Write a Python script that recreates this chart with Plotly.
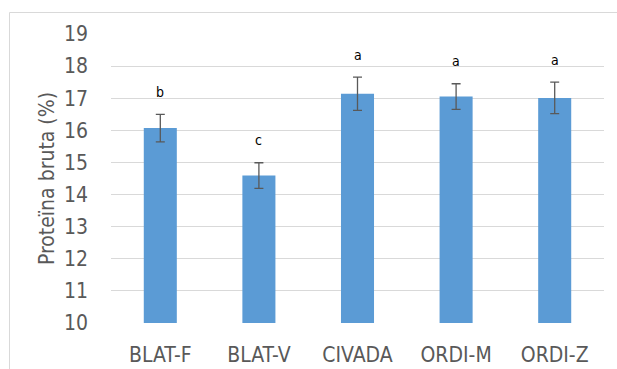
import plotly.graph_objects as go

categories = ["BLAT-F", "BLAT-V", "CIVADA", "ORDI-M", "ORDI-Z"]
protein = [16.07, 14.59, 17.14, 17.05, 17.01]
errors = [0.43, 0.40, 0.52, 0.40, 0.49]
letters = ["b", "c", "a", "a", "a"]
letter_offset = 0.7

W, H = 617, 369
L, R, T, B = 111, 13, 34, 46
pw, ph = W - L - R, H - T - B

font_family = "DejaVu Sans Condensed, Liberation Sans, sans-serif"
grey = "#595959"

fig = go.Figure(
    go.Bar(
        x=categories,
        y=protein,
        marker=dict(color="#5b9bd5", line=dict(width=0)),
        error_y=dict(type="data", array=errors, color="#595959", thickness=1.3, width=4.5),
    )
)

for cat, val, err, lab in zip(categories, protein, errors, letters):
    fig.add_annotation(
        x=cat, y=val + err + letter_offset, text=lab, showarrow=False,
        font=dict(family=font_family, size=14, color="#000000"),
        yanchor="middle",
    )

# chart frame: left and top edges
frame = dict(color="#d9d9d9", width=1)
x_left = (9.5 - L) / pw
y_top = (H - B - 12.5) / ph
fig.add_shape(type="line", xref="paper", yref="paper",
              x0=x_left, x1=x_left, y0=-(B + 10) / ph, y1=y_top, line=frame)
fig.add_shape(type="line", xref="paper", yref="paper",
              x0=x_left, x1=(W + 10 - L) / pw, y0=y_top, y1=y_top, line=frame)

fig.update_layout(
    width=W, height=H,
    margin=dict(l=L, r=R, t=T, b=B, pad=0),
    paper_bgcolor="white", plot_bgcolor="white",
    bargap=0.665,
    showlegend=False,
    font=dict(family=font_family, color=grey, size=21),
    xaxis=dict(
        showgrid=False, showline=False, ticks="", ticklabelstandoff=17,
        automargin=False,
        tickfont=dict(size=21, color=grey, family=font_family),
    ),
    yaxis=dict(
        range=[10, 19], dtick=1, showgrid=True, gridcolor="#d9d9d9", gridwidth=1,
        zeroline=False, showline=False, ticks="", ticklabelstandoff=22,
        automargin=False,
        tickfont=dict(size=21, color=grey, family=font_family),
        title=dict(text="Proteïna bruta (%)", standoff=3,
                   font=dict(size=21, color=grey, family=font_family)),
    ),
)

fig.write_html("out.html")
